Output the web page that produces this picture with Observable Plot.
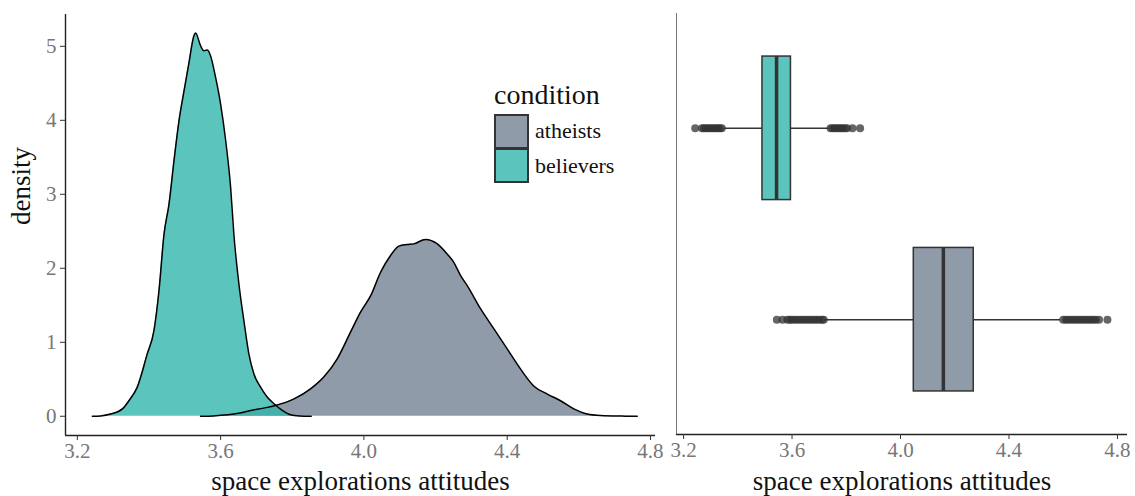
<!DOCTYPE html>
<html>
<head>
<meta charset="utf-8">
<script src="https://cdn.jsdelivr.net/npm/d3@7"></script>
<script src="https://cdn.jsdelivr.net/npm/@observablehq/plot@0.6"></script>
<style>
  html, body { margin: 0; padding: 0; background: #fff; }
  #wrap { position: relative; width: 1135px; height: 496px; font-family: "Liberation Serif", serif; }
  #left { position: absolute; left: 0; top: 0; }
  #right { position: absolute; left: 665px; top: 0; }
  svg g[aria-label$="tick label"], svg g[aria-label$="tick label"] text { fill: #777; }
  svg g[aria-label$="-axis tick"] { stroke: #333; }
  #legend { position: absolute; left: 494px; top: 80px; color: #111; }
  #legend .title { font-size: 28px; line-height: 30px; height: 34px; }
  #legend .row { display: flex; align-items: center; height: 34.5px; }
  #legend .key { width: 31px; height: 31.5px; border: 2px solid #333; margin-right: 6px; box-sizing: content-box; }
  #legend .row + .row .key { border-top-width: 1px; }
  #legend .lab { font-size: 22px; }
</style>
</head>
<body>
<div id="wrap">
  <div id="left"></div>
  <div id="right"></div>
  <div id="legend"></div>
</div>
<script>
// ---------- data ----------
const conditions = ["atheists", "believers"];
const fillColors = ["#738292", "#32B5AB"]; // drawn at 0.8 opacity
const boxColors = ["#8F9BA8", "#5BC4BC"];

const xTicks = [3.2, 3.6, 4.0, 4.4, 4.8];
const yTicks = [0, 1, 2, 3, 4, 5];

// density curves
const believersX = [3.242, 3.265, 3.293, 3.326, 3.344, 3.367, 3.395, 3.414, 3.428, 3.442, 3.456, 3.470, 3.484, 3.498, 3.511, 3.526, 3.530, 3.544, 3.553, 3.563, 3.572, 3.586, 3.600, 3.614, 3.628, 3.637, 3.651, 3.665, 3.679, 3.693, 3.712, 3.730, 3.749, 3.772, 3.795, 3.820, 3.853];
const believersDensity = [0, 0.005, 0.03, 0.10, 0.21, 0.39, 0.84, 1.16, 1.70, 2.46, 2.87, 3.46, 4.00, 4.40, 4.76, 5.15, 5.18, 5.01, 4.94, 4.95, 4.87, 4.58, 4.22, 3.73, 3.09, 2.46, 1.79, 1.29, 0.84, 0.57, 0.39, 0.26, 0.17, 0.08, 0.02, 0.005, 0];

const atheistsX = [3.544, 3.580, 3.620, 3.650, 3.684, 3.720, 3.753, 3.805, 3.851, 3.888, 3.926, 3.963, 3.991, 4.019, 4.047, 4.074, 4.098, 4.121, 4.139, 4.172, 4.205, 4.233, 4.251, 4.270, 4.288, 4.326, 4.363, 4.400, 4.437, 4.474, 4.512, 4.549, 4.586, 4.623, 4.660, 4.720, 4.763];
const atheistsDensity = [0, 0.005, 0.02, 0.04, 0.077, 0.11, 0.145, 0.235, 0.37, 0.53, 0.78, 1.14, 1.41, 1.63, 1.95, 2.17, 2.30, 2.32, 2.33, 2.39, 2.33, 2.19, 2.08, 1.90, 1.77, 1.45, 1.18, 0.91, 0.64, 0.41, 0.30, 0.21, 0.10, 0.03, 0.01, 0.002, 0];

// boxplot statistics
const boxQ1 = [4.049, 3.491];
const boxMedian = [4.158, 3.543];
const boxQ3 = [4.270, 3.596];
const whiskerLow = [3.720, 3.350];
const whiskerHigh = [4.591, 3.737];

const atheistsOutliers = [3.544, 3.565, 3.583, 3.592, 3.600, 3.610, 3.620, 3.630, 3.640, 3.650, 3.660, 3.670, 3.680, 3.690, 3.700, 3.710, 3.717,
  4.600, 4.610, 4.620, 4.630, 4.640, 4.650, 4.660, 4.670, 4.680, 4.690, 4.700, 4.710, 4.720, 4.732, 4.763];
const believersOutliers = [3.243, 3.268, 3.275, 3.282, 3.290, 3.297, 3.305, 3.312, 3.320, 3.327, 3.334, 3.341,
  3.742, 3.750, 3.757, 3.765, 3.772, 3.780, 3.787, 3.795, 3.803, 3.823, 3.851];

const xTitle = "space explorations attitudes";
const yTitle = "density";
const legendTitle = "condition";

// ---------- tables ----------
const densityRows = [
  ...atheistsX.map((x, i) => ({condition: "atheists", x, density: atheistsDensity[i]})),
  ...believersX.map((x, i) => ({condition: "believers", x, density: believersDensity[i]}))
];
const pos = {atheists: 1, believers: 2};
const boxes = conditions.map((c, i) => ({
  condition: c, pos: pos[c], q1: boxQ1[i], median: boxMedian[i], q3: boxQ3[i],
  lo: whiskerLow[i], hi: whiskerHigh[i]
}));
const outliers = [
  ...atheistsOutliers.map(v => ({condition: "atheists", pos: pos.atheists, value: v})),
  ...believersOutliers.map(v => ({condition: "believers", pos: pos.believers, value: v}))
];

const font = {fontFamily: "Liberation Serif, serif", fontSize: "21px", background: "transparent", color: "#111", overflow: "visible"};

// ---------- left: density ----------
const leftX = [3.167, 4.814];
const leftY = [-0.26, 5.43];
const left = Plot.plot({
  width: 665, height: 496,
  marginLeft: 65, marginRight: 10, marginTop: 14, marginBottom: 61,
  style: font,
  x: {domain: leftX},
  y: {domain: leftY},
  color: {domain: conditions, range: fillColors},
  marks: [
    Plot.areaY(densityRows, {x: "x", y: "density", z: "condition", fill: "condition", fillOpacity: 0.8, curve: "monotone-x"}),
    Plot.line(densityRows, {x: "x", y: "density", z: "condition", stroke: "#000", strokeWidth: 1.5, curve: "monotone-x"}),
    Plot.ruleX([leftX[0]], {stroke: "#222", strokeWidth: 1.4}),
    Plot.ruleY([leftY[0]], {stroke: "#222", strokeWidth: 1.4}),
    Plot.axisX({ticks: xTicks, tickFormat: d3.format(".1f"), tickSize: 5, tickPadding: 3, fontSize: 21, label: null}),
    Plot.axisY({ticks: yTicks, tickFormat: d3.format("d"), tickSize: 5, tickPadding: 4, fontSize: 21, label: null}),
    Plot.text([xTitle], {text: d => d, frameAnchor: "bottom", dy: 46, fontSize: 27, lineAnchor: "middle", fill: "#111"}),
    Plot.text([yTitle], {text: d => d, frameAnchor: "left", dx: -44, rotate: -90, fontSize: 27, lineAnchor: "middle", fill: "#111"})
  ]
});
document.getElementById("left").append(left);

// ---------- right: boxplot ----------
const rightX = [3.174, 4.837];
const rightY = [0.4, 2.6];
const half = 0.375;
const right = Plot.plot({
  width: 470, height: 496,
  marginLeft: 11, marginRight: 8, marginTop: 13, marginBottom: 62,
  style: font,
  x: {domain: rightX},
  y: {domain: rightY, axis: null},
  marks: [
    Plot.ruleY(boxes, {y: "pos", x1: "lo", x2: "q1", stroke: "#333", strokeWidth: 1.5}),
    Plot.ruleY(boxes, {y: "pos", x1: "q3", x2: "hi", stroke: "#333", strokeWidth: 1.5}),
    Plot.dot(outliers, {x: "value", y: "pos", r: 4, fill: "#333", fillOpacity: 0.75, stroke: "none"}),
    Plot.rect(boxes, {x1: "q1", x2: "q3", y1: d => d.pos - half, y2: d => d.pos + half,
      fill: d => boxColors[conditions.indexOf(d.condition)], stroke: "#333", strokeWidth: 1.5}),
    Plot.ruleX(boxes, {x: "median", y1: d => d.pos - half, y2: d => d.pos + half, stroke: "#333", strokeWidth: 3.5}),
    Plot.ruleX([rightX[0]], {stroke: "#777", strokeWidth: 1}),
    Plot.ruleY([rightY[0]], {stroke: "#222", strokeWidth: 1.4}),
    Plot.axisX({ticks: xTicks, tickFormat: d3.format(".1f"), tickSize: 5, tickPadding: 3, fontSize: 21, label: null}),
    Plot.text([xTitle], {text: d => d, frameAnchor: "bottom", dy: 47, fontSize: 27, lineAnchor: "middle", fill: "#111"})
  ]
});
document.getElementById("right").append(right);

// ---------- legend ----------
const lg = document.getElementById("legend");
const t = document.createElement("div");
t.className = "title";
t.textContent = legendTitle;
lg.append(t);
conditions.forEach((c, i) => {
  const row = document.createElement("div");
  row.className = "row";
  const key = document.createElement("div");
  key.className = "key";
  key.style.background = boxColors[i];
  const lab = document.createElement("span");
  lab.className = "lab";
  lab.textContent = c;
  row.append(key, lab);
  lg.append(row);
});
</script>
</body>
</html>
